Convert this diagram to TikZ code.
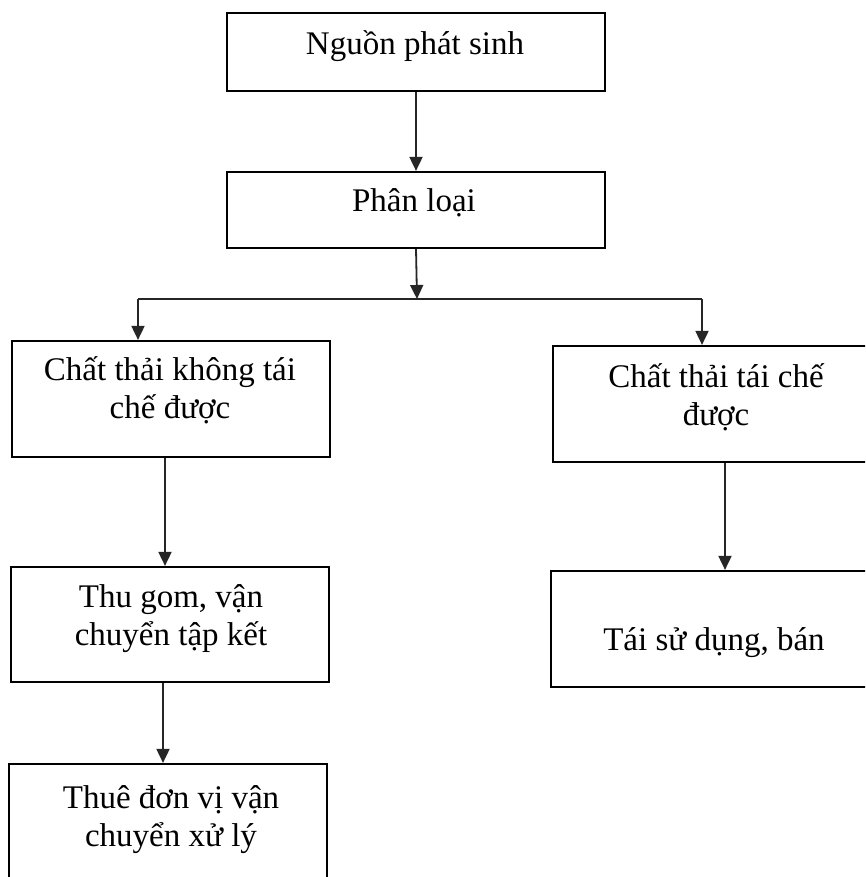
\documentclass[tikz,border=0pt]{standalone}
\usepackage{fontspec}
\setmainfont{Liberation Serif}
\usetikzlibrary{arrows.meta}
\tikzset{
  box/.style={draw=black, line width=2.2pt, rectangle, inner sep=0pt, fill=white},
  lbl/.style={inner sep=0pt, anchor=base, font=\fontsize{33}{38}\selectfont},
  arr/.style={draw=black!85, line width=1.8pt, -{Triangle[length=14pt,width=13pt]}},
  wire/.style={draw=black!85, line width=1.8pt}
}
\newcommand{\twolines}[2]{\begin{tabular}[t]{@{}c@{}}#1\\#2\end{tabular}}
\begin{document}
\begin{tikzpicture}[x=1pt,y=-1pt]
  \useasboundingbox (0,0) rectangle (865,877);
  \clip (0,0) rectangle (865,877);
  \fill[white] (0,0) rectangle (865,877);

  % boxes (the right column and the last box run past the page edge)
  \node[box, minimum width=378pt, minimum height=78pt]  (b1) at (416,52)    {};
  \node[box, minimum width=378pt, minimum height=76pt]  (b2) at (416,210)   {};
  \node[box, minimum width=318pt, minimum height=116pt] (b3) at (171,399)   {};
  \node[box, minimum width=346pt, minimum height=116pt] (b4) at (726,404)   {};
  \node[box, minimum width=318pt, minimum height=115pt] (b5) at (170,624.5) {};
  \node[box, minimum width=348pt, minimum height=116pt] (b6) at (725,629)   {};
  \node[box, minimum width=318pt, minimum height=140pt] (b7) at (168,834)   {};

  % labels
  \node[lbl] (t1) at (415,55)  {Nguồn phát sinh};
  \node[lbl] (t2) at (414,212) {Phân loại};
  \node[lbl] (t3) at (170,380) {\twolines{Chất thải không tái}{chế được}};
  \node[lbl] (t4) at (716,387) {\twolines{Chất thải tái chế}{được}};
  \node[lbl] (t5) at (171,607) {\twolines{Thu gom, vận}{chuyển tập kết}};
  \node[lbl] (t6) at (714,650) {Tái sử dụng, bán};
  \node[lbl] (t7) at (171,808) {\twolines{Thuê đơn vị vận}{chuyển xử lý}};

  % branching bar under the sorting step
  \coordinate (j)  at (417,299);
  \coordinate (hl) at (138,299);
  \coordinate (hr) at (702,299);

  % connectors
  \draw[arr] (b1.south) -- (b2.north);
  \draw[arr] (b2.south) -- (j);
  \draw[wire] (hl) -- (hr);
  \draw[arr] (hl) -- (hl |- b3.north);
  \draw[arr] (hr) -- (hr |- b4.north);
  \draw[arr] ([xshift=-6pt]b3.south) -- ([xshift=-5pt]b5.north);
  \draw[arr] (b4.south -| b6.north) -- (b6.north);
  \draw[arr] ([xshift=-7pt]b5.south) -- ([xshift=-5pt]b7.north);
\end{tikzpicture}
\end{document}
